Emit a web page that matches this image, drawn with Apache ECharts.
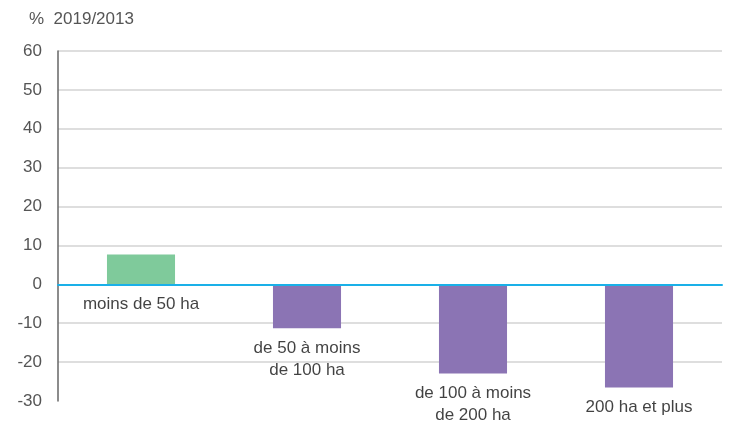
<!DOCTYPE html>
<html>
<head>
<meta charset="utf-8">
<script src="https://cdn.jsdelivr.net/npm/echarts@6/dist/echarts.min.js"></script>
<style>
  html, body { margin: 0; padding: 0; background: #fff; }
  #chart { width: 739px; height: 427px; }
</style>
</head>
<body>
<div id="chart"></div>
<script>
// données
var categories = ['moins de 50 ha', 'de 50 à moins\nde 100 ha', 'de 100 à moins\nde 200 ha', '200 ha et plus']
var values = [7.7, -11.3, -22.9, -26.5]
var barColors = ['#7fca9b', '#8b74b4', '#8b74b4', '#8b74b4']
var axisTitle = '%  2019/2013'

var chart = echarts.init(document.getElementById('chart'))

chart.setOption({
  animation: false,
  textStyle: { fontFamily: 'Liberation Sans, Arial, sans-serif' },
  title: {
    text: axisTitle,
    left: 24,
    top: 6,
    textStyle: { fontSize: 17, fontWeight: 'normal', color: '#555' }
  },
  grid: { left: 58, right: 17, top: 51, bottom: 26 },
  xAxis: {
    type: 'category',
    data: categories,
    axisLine: { onZero: true, lineStyle: { color: '#1ab0e8', width: 2 } },
    axisTick: { show: false },
    axisLabel: { show: false },
    z: 5
  },
  yAxis: {
    type: 'value',
    min: -30,
    max: 60,
    interval: 10,
    axisLine: { show: true, lineStyle: { color: '#666', width: 1.5 } },
    axisTick: { show: false },
    axisLabel: {
      fontSize: 17,
      margin: 16,
      color: function (v) { return v === 0 ? '#1ab0e8' : '#555' }
    },
    splitLine: { showMinLine: false, lineStyle: { color: '#d3d3d3', width: 1.5 } }
  },
  series: [
    {
      type: 'bar',
      barWidth: '41%',
      data: values.map(function (v, i) {
        return { value: v, itemStyle: { color: barColors[i] } }
      })
    },
    {
      // étiquettes sous la barre (ou sous le zéro)
      type: 'scatter',
      symbolSize: 0,
      silent: true,
      data: values.map(function (v) { return Math.min(v, 0) }),
      label: {
        show: true,
        position: 'bottom',
        distance: 9,
        fontSize: 17,
        lineHeight: 22,
        color: '#111',
        align: 'center',
        formatter: function (p) { return categories[p.dataIndex] }
      },
      z: 10
    }
  ]
})
</script>
</body>
</html>
